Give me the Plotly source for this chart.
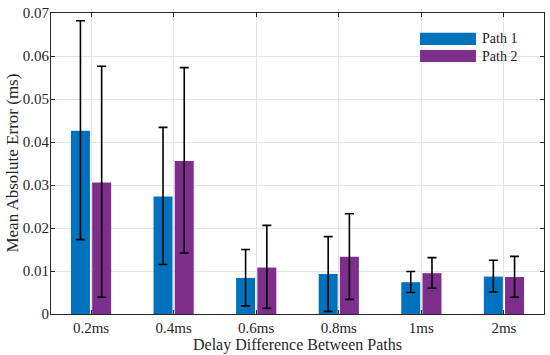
import plotly.graph_objects as go

categories = ["0.2ms", "0.4ms", "0.6ms", "0.8ms", "1ms", "2ms"]
path1_mean = [0.0426, 0.0273, 0.0084, 0.0093, 0.0074, 0.0087]
path1_upper = [0.0682, 0.0434, 0.0150, 0.0180, 0.0099, 0.0125]
path1_lower = [0.0173, 0.0115, 0.0019, 0.0006, 0.0050, 0.0051]
path2_mean = [0.0306, 0.0356, 0.0108, 0.0133, 0.0095, 0.0086]
path2_upper = [0.0576, 0.0573, 0.0206, 0.0233, 0.0131, 0.0134]
path2_lower = [0.0039, 0.0142, 0.0013, 0.0034, 0.0060, 0.0039]
y_ticks = [0, 0.01, 0.02, 0.03, 0.04, 0.05, 0.06, 0.07]
y_ticklabels = ["0", "0.01", "0.02", "0.03", "0.04", "0.05", "0.06", "0.07"]

c1 = "#0072BD"
c2 = "#7E2F8E"
font = "Liberation Serif, Times New Roman, serif"

def err(mean, up, lo):
    return dict(type="data", symmetric=False,
                array=[u - m for u, m in zip(up, mean)],
                arrayminus=[m - l for m, l in zip(mean, lo)],
                color="black", thickness=1.6, width=4.5)

fig = go.Figure()
fig.add_trace(go.Bar(x=categories, y=path1_mean, name="Path 1", marker_color=c1,
                     marker_line_width=0, error_y=err(path1_mean, path1_upper, path1_lower)))
fig.add_trace(go.Bar(x=categories, y=path2_mean, name="Path 2", marker_color=c2,
                     marker_line_width=0, error_y=err(path2_mean, path2_upper, path2_lower)))

# legend drawn manually (MATLAB-style wide patches)
legend_items = [("Path 1", c1, 0.894, 0.934), ("Path 2", c2, 0.837, 0.877)]
for name, col, y0, y1 in legend_items:
    fig.add_shape(type="rect", xref="paper", yref="paper",
                  x0=0.7485, x1=0.862, y0=y0, y1=y1, fillcolor=col, line_width=0)
    fig.add_annotation(xref="paper", yref="paper", x=0.870, y=(y0 + y1) / 2,
                       text=name, showarrow=False, xanchor="left", yanchor="middle",
                       font=dict(family=font, size=14, color="#1a1a1a"))

# y-axis title as rotated annotation for precise placement
fig.add_annotation(xref="paper", yref="paper", x=-0.079, y=0.5,
                   text="Mean Absolute Error (ms)", showarrow=False, textangle=-90,
                   xanchor="center", yanchor="middle",
                   font=dict(family=font, size=17, color="#262626"))

fig.update_layout(
    width=550, height=355,
    margin=dict(l=51, r=6, t=13, b=41, autoexpand=False),
    paper_bgcolor="white", plot_bgcolor="white",
    barmode="group", bargap=0.486, bargroupgap=0.105,
    showlegend=False, hovermode=False,
    font=dict(family=font, size=15, color="#262626"),
    xaxis=dict(
        range=[-0.485, 5.485], showline=True, linecolor="#262626", linewidth=1,
        mirror="ticks", ticks="inside", ticklen=4, tickcolor="#262626",
        showgrid=True, gridcolor="#e3e3e3", gridwidth=1,
        title=dict(text="Delay Difference Between Paths", font=dict(size=16), standoff=2),
        tickfont=dict(size=15), automargin=False,
    ),
    yaxis=dict(
        range=[0, 0.07], tickvals=y_ticks, ticktext=y_ticklabels,
        showline=True, linecolor="#262626", linewidth=1,
        mirror="ticks", ticks="inside", ticklen=4, tickcolor="#262626",
        showgrid=True, gridcolor="#e3e3e3", gridwidth=1, zeroline=False,
        tickfont=dict(size=15), automargin=False, ticklabeloverflow="allow",
        ticklabelstandoff=-2,
    ),
)

fig.write_html("out.html", config={"displayModeBar": False, "staticPlot": True},
               post_script="document.body.style.margin='0';")
